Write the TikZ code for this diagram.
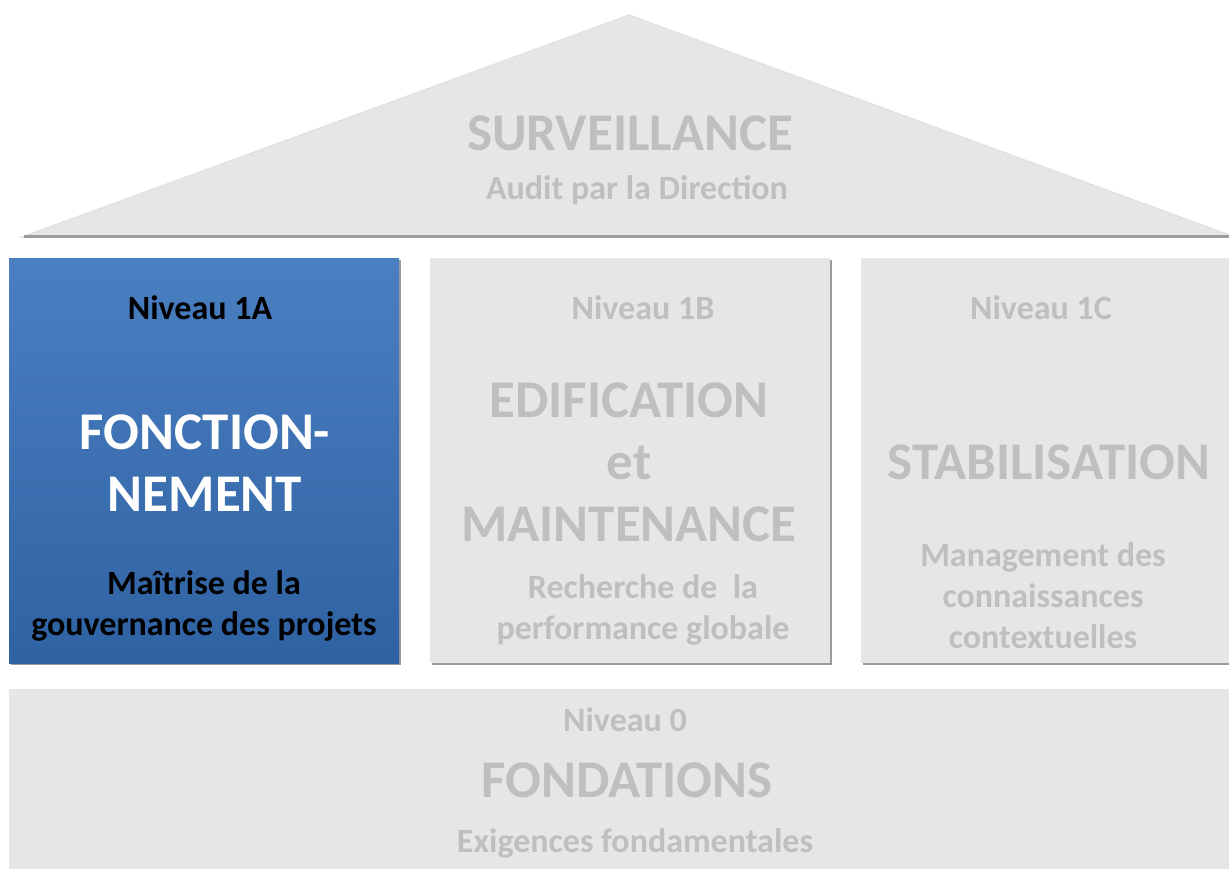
\documentclass[tikz,border=0pt]{standalone}
\usepackage{fontspec}
\setmainfont{Carlito}
\usetikzlibrary{shadows}

\definecolor{housegray}{HTML}{E6E6E6}
\definecolor{fadedtext}{HTML}{BFBFBF}
\definecolor{edgegray}{HTML}{9C9C9C}
\definecolor{bluetop}{HTML}{4A7FC2}
\definecolor{bluebottom}{HTML}{2F62A2}

\begin{document}
\begin{tikzpicture}[
    x=0.5pt, y=-0.5pt,
    pillar/.style={
        minimum width=#1,
        minimum height=202.5pt,
        inner sep=0pt,
        fill=housegray,
        drop shadow={shadow xshift=1pt, shadow yshift=-1pt,
            fill=edgegray, opacity=1}
    },
    activepillar/.style={
        pillar=#1,
        top color=bluetop,
        bottom color=bluebottom
    },
    level/.style={
        text=fadedtext,
        font=\fontsize{17}{20}\selectfont\bfseries
    },
    headline/.style={
        text=fadedtext,
        align=center,
        font=\fontsize{26.5}{31}\selectfont\bfseries
    },
    caption/.style={
        text=fadedtext,
        align=center,
        font=\fontsize{17}{20.5}\selectfont\bfseries
    }
]
    \useasboundingbox (0,0) rectangle (1229,868);

    % roof
    \fill[housegray, draw=black!12, line width=0.6pt]
        (22,237) -- (629,15) -- (1235,237) -- cycle;
    \draw[edgegray, line width=1.5pt] (24,236) -- (1229,236);

    % pillars
    \node[activepillar=195pt] (box1a) at (204,460.5) {};
    \node[pillar=200pt] (box1b) at (630,460.5) {};
    \node[pillar=184pt] (box1c) at (1045,460.5) {};
    \node[pillar=614pt, minimum height=90pt] (box0) at (623,779) {};

    % roof text
    \node[headline] (surv) at (630,133) {SURVEILLANCE};
    \node[caption] (audit) at (637,190) {Audit par la Direction};

    % level 1A
    \node[level, text=black] (lvl1a) at (200,308) {Niveau 1A};
    \node[headline, text=white] (fonc) at (205,463)
        {FONCTION-\\NEMENT};
    \node[caption, text=black] (gouv) at (204,606)
        {Maîtrise de la\\gouvernance des projets};

    % level 1B
    \node[level] (lvl1b) at (643,308) {Niveau 1B};
    \node[headline] (edif) at (629,462)
        {EDIFICATION\\et\\MAINTENANCE};
    \node[caption] (perf) at (643,610)
        {Recherche de \ la\\performance globale};

    % level 1C
    \node[level] (lvl1c) at (1041,308) {Niveau 1C};
    \node[headline] (stab) at (1049,462) {STABILISATION};
    \node[caption] (conn) at (1043,596)
        {Management des\\connaissances\\contextuelles};

    % level 0
    \node[level] (lvl0) at (625,720) {Niveau 0};
    \node[headline] (fond) at (627,780) {FONDATIONS};
    \node[caption] (exig) at (635,843) {Exigences fondamentales};
\end{tikzpicture}
\end{document}
